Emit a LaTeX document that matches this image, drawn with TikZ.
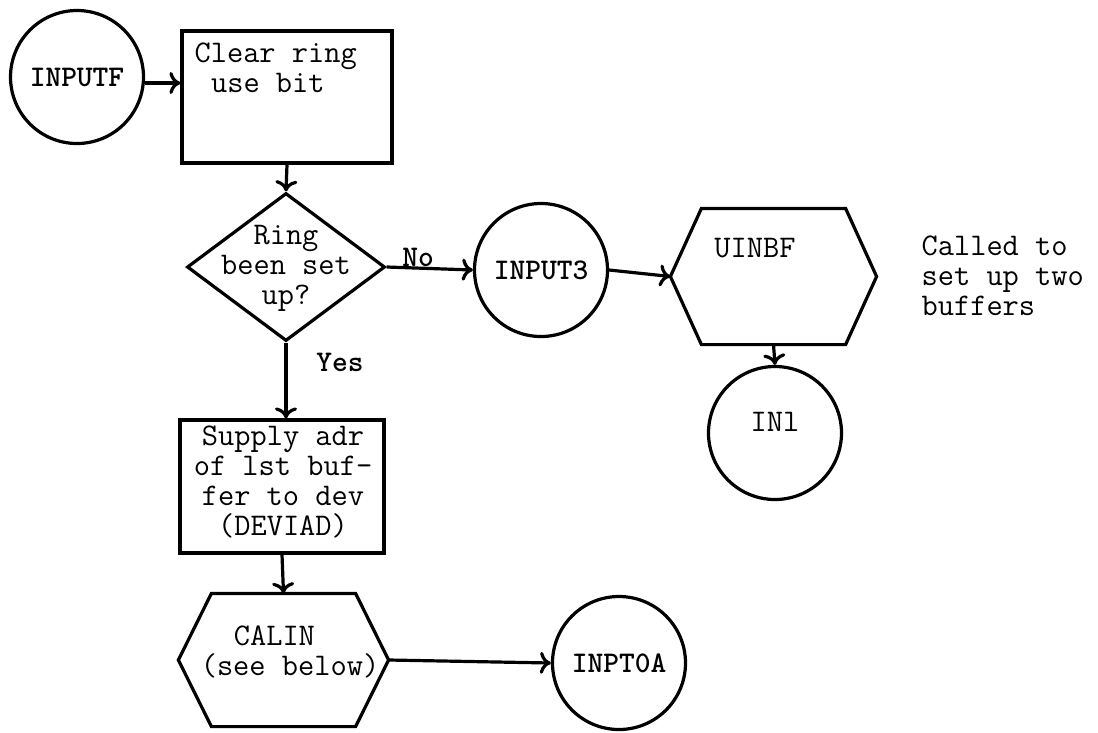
\documentclass[tikz,border=0pt]{standalone}
\usepackage{fontspec}
\usetikzlibrary{arrows.meta,shapes.geometric}
\begin{document}
\begin{tikzpicture}[x=1pt,y=-1pt,line width=3.2pt,
  txt/.style={font=\fontsize{31.5}{30}\selectfont\ttfamily, inner sep=0pt},
  btxt/.style={font=\fontsize{30}{28}\selectfont\ttfamily\bfseries, inner sep=0pt},
  circ/.style={draw, circle, minimum size=133pt, inner sep=0pt, btxt},
  box/.style={draw, rectangle, inner sep=0pt},
  hexbox/.style={draw=none, rectangle, inner sep=0pt},
  arr/.style={-{To[length=11pt,width=22pt]}}]
\useasboundingbox (0,0) rectangle (1098,732);

% nodes
\node[circ] (inputf) at (77,77) {INPUTF};
\node[box, minimum width=210pt, minimum height=132pt] (clear) at (287,97) {};
\node[txt, align=left, anchor=west] (cleart) at (193,68) {Clear ring\\\hspace*{0.525em}use bit};

\node[draw, diamond, minimum width=198pt, minimum height=148pt, inner sep=0pt] (ring) at (286,267) {};
\node[txt, align=center] (ringt) at (286,268) {Ring\\been set\\up?};

\node[circ] (input3) at (541,270) {INPUT3};

\node[hexbox, minimum width=203pt, minimum height=133pt] (uinbf) at (773.5,276.5) {};
\node[txt] (uinbft) at (755,248) {UINBF};

\node[circ, txt, text depth=22pt] (in1) at (775,433) {INl};

\node[txt, align=left, anchor=west] (called) at (920,276) {Called to\\set up two\\buffers};

\node[box, minimum width=204pt, minimum height=133pt] (supply) at (282,486.5) {};
\node[txt, align=center] (supplyt) at (283,482) {Supply adr\\of lst buf-\\fer to dev\\(DEVIAD)};

\node[hexbox, minimum width=207pt, minimum height=130pt] (calin) at (283.5,660) {};
\node[txt, align=left] (calint) at (290,652) {\hspace*{1.05em}CALIN\\(see below)};

\node[circ] (inpt0a) at (619,663) {INPT0A};

\node[btxt] (no) at (418,257) {No};
\node[btxt] (yes) at (340,362) {Yes};

% hexagon outlines
\draw ([xshift=31pt]uinbf.north west) -- ([xshift=-31pt]uinbf.north east) -- (uinbf.east)
  -- ([xshift=-31pt]uinbf.south east) -- ([xshift=31pt]uinbf.south west) -- (uinbf.west) -- cycle;
\draw ([xshift=33pt]calin.north west) -- ([xshift=-33pt]calin.north east) -- (calin.east)
  -- ([xshift=-33pt]calin.south east) -- ([xshift=33pt]calin.south west) -- (calin.west) -- cycle;

% connectors
\draw[arr] ([yshift=-6pt]inputf.east) -- ([yshift=-6pt]inputf.east -| clear.west);
\draw[arr] (clear.south) -- (ring.north);
\draw[arr] (ring.east) -- (input3.west);
\draw[arr] (input3.east) -- (uinbf.west);
\draw[arr] (uinbf.south) -- (in1.north);
\draw[arr] (ring.south) -- (ring.south |- supply.north);
\draw[arr] (supply.south) -- (calin.north);
\draw[arr] (calin.east) -- (inpt0a.west);
\end{tikzpicture}
\end{document}
